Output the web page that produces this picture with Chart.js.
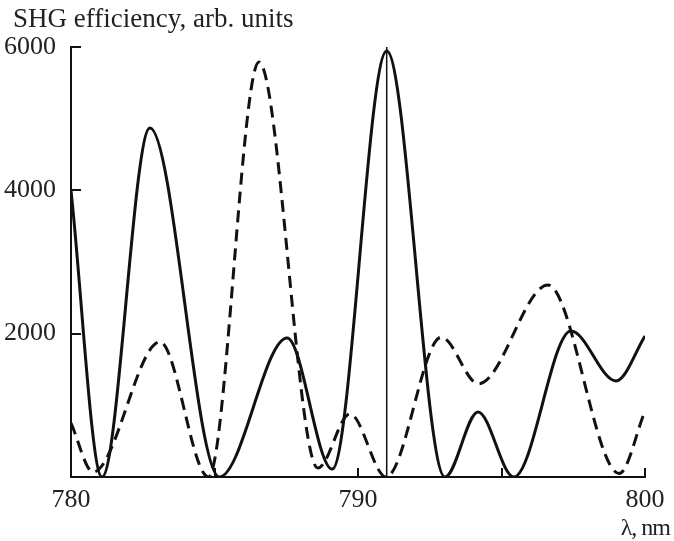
<!DOCTYPE html>
<html>
<head>
<meta charset="utf-8">
<script src="https://cdn.jsdelivr.net/npm/chart.js@4"></script>
<style>
  body { margin: 0; background: #fff; }
  #wrap { position: relative; width: 674px; height: 541px; }
  .lbl { position: absolute; font-family: 'Liberation Serif', 'DejaVu Serif', serif; color: #222; white-space: nowrap; }
</style>
</head>
<body>
<div id="wrap">
  <canvas id="c" width="674" height="541"></canvas>
  <div class="lbl" style="left:13px; top:5px; font-size:27px; line-height:27px;">SHG efficiency, arb. units</div>
  <div class="lbl" style="right:4px; top:515px; font-size:24px; line-height:24px; letter-spacing:-1px;">λ, nm</div>
</div>
<script>
/* SHG efficiency vs wavelength */

// solid curve (extrema)
const solidX = [780, 781.08, 782.75, 785.17, 787.53, 789.1, 791.0, 793.03, 794.18, 795.43, 797.42, 798.99, 800];
const solidY = [4000, 0, 4870, 0, 1940, 110, 5944, 0, 907, 0, 2037, 1340, 1967];

// dashed curve
const dashedX = [780, 780.77, 783.1, 784.79, 786.55, 788.6, 789.72, 790.98, 792.9, 794.2, 796.62, 799.1, 800];
const dashedY = [753, 70, 1884, 0, 5790, 125, 880, 0, 1950, 1300, 2679, 50, 921];

// thin vertical marker
const markerX = [791.0, 791.0];
const markerY = [0, 6000];

// axes
const xTicks = [780, 790, 800];
const xTickMarks = [785, 790, 795, 800];
const yTicks = [2000, 4000, 6000];

const serif = "'Liberation Serif', 'DejaVu Serif', serif";
const ink = '#111';

const pts = (xs, ys) => xs.map((x, i) => ({ x, y: ys[i] }));

// tick marks pointing into the plot
const innerTicks = {
  id: 'innerTicks',
  afterDraw(chart) {
    const { ctx, chartArea, scales } = chart;
    ctx.save();
    ctx.strokeStyle = ink;
    ctx.lineWidth = 2;
    ctx.beginPath();
    xTickMarks.forEach(v => {
      const px = Math.round(scales.x.getPixelForValue(v));
      ctx.moveTo(px, chartArea.bottom);
      ctx.lineTo(px, chartArea.bottom - 9);
    });
    yTicks.forEach(v => {
      const py = Math.round(scales.y.getPixelForValue(v));
      ctx.moveTo(chartArea.left, py);
      ctx.lineTo(chartArea.left + 10, py);
    });
    ctx.stroke();
    ctx.restore();
  }
};

new Chart(document.getElementById('c'), {
  type: 'line',
  data: {
    datasets: [
      { data: pts(solidX, solidY), borderColor: ink, borderWidth: 3, pointRadius: 0, cubicInterpolationMode: 'monotone', fill: false },
      { data: pts(dashedX, dashedY), borderColor: ink, borderWidth: 3, borderDash: [12, 7], pointRadius: 0, cubicInterpolationMode: 'monotone', fill: false },
      { data: pts(markerX, markerY), borderColor: ink, borderWidth: 1.5, pointRadius: 0, fill: false },
    ],
  },
  options: {
    responsive: false,
    animation: false,
    layout: { padding: { top: 47, right: 29, bottom: 0, left: 0 } },
    plugins: { legend: { display: false }, tooltip: { enabled: false } },
    scales: {
      x: {
        type: 'linear', min: 780, max: 800,
        afterBuildTicks: s => { s.ticks = xTicks.map(v => ({ value: v })); },
        afterFit: s => { s.height = 64; },
        grid: { display: false },
        border: { display: true, color: ink, width: 2 },
        ticks: { font: { family: serif, size: 26 }, color: '#222', padding: 0, maxRotation: 0, callback: v => String(v) },
      },
      y: {
        type: 'linear', min: 0, max: 6000,
        afterBuildTicks: s => { s.ticks = yTicks.map(v => ({ value: v })); },
        afterFit: s => { s.width = 71; },
        grid: { display: false },
        border: { display: true, color: ink, width: 2 },
        ticks: { font: { family: serif, size: 26 }, color: '#222', padding: 7, callback: v => String(v) },
      },
    },
  },
  plugins: [innerTicks],
});
</script>
</body>
</html>
